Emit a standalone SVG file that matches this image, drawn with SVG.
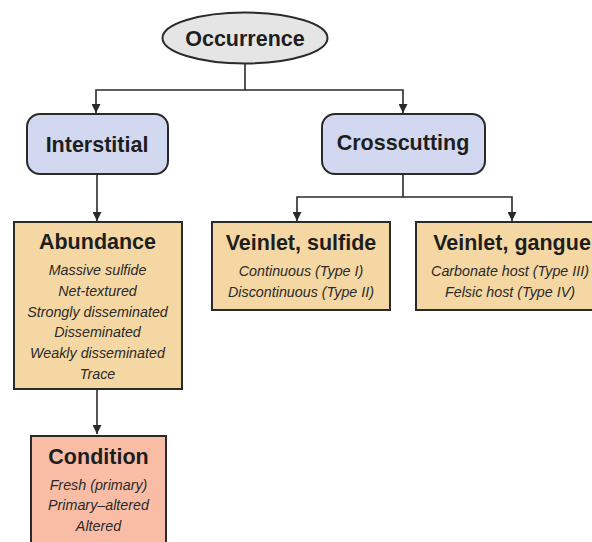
<svg xmlns="http://www.w3.org/2000/svg" width="592" height="542" viewBox="0 0 592 542">
<defs>
<marker id="arr" viewBox="0 0 10 10" refX="10" refY="5" markerWidth="9" markerHeight="9" markerUnits="userSpaceOnUse" orient="auto">
<path d="M0,0 L10,5 L0,10 Z" fill="#2a2a2a"/>
</marker>
</defs>
<style>
.box{stroke:#2a2a2a;stroke-width:2}
.t{font-family:"Liberation Sans",Arial,sans-serif;font-weight:bold;font-size:21.5px;fill:#1e1e1e;text-anchor:middle}
.i{font-family:"Liberation Sans",Arial,sans-serif;font-style:italic;font-size:14.3px;fill:#2a2a2a;text-anchor:middle}
.c{fill:none;stroke:#2a2a2a;stroke-width:1.6}
</style>
<rect width="592" height="542" fill="#ffffff"/>
<g id="connectors">
<path class="c" d="M245,63 V90 H96 V113" marker-end="url(#arr)"/>
<path class="c" d="M245,90 H403 V113" marker-end="url(#arr)"/>
<path class="c" d="M97,175 V221" marker-end="url(#arr)"/>
<path class="c" d="M403,174 V197 H297 V221" marker-end="url(#arr)"/>
<path class="c" d="M403,197 H512 V221" marker-end="url(#arr)"/>
<path class="c" d="M97,389 V434" marker-end="url(#arr)"/>
</g>
<g id="occurrence">
<ellipse class="box" cx="245" cy="38" rx="82.5" ry="25.5" fill="#e5e5e5"/>
<text class="t" x="245" y="45.5">Occurrence</text>
</g>
<g id="interstitial">
<rect class="box" x="27" y="114" width="141" height="60" rx="13" fill="#d2d8ef"/>
<text class="t" x="97" y="152">Interstitial</text>
</g>
<g id="crosscutting">
<rect class="box" x="322" y="114" width="163" height="60" rx="13" fill="#d2d8ef"/>
<text class="t" x="403" y="150">Crosscutting</text>
</g>
<g id="abundance">
<rect class="box" x="14" y="222" width="168" height="167" fill="#f5d7a3"/>
<text class="t" x="97.5" y="249">Abundance</text>
<text class="i" x="97.5" y="275">Massive sulfide</text>
<text class="i" x="97.5" y="296">Net-textured</text>
<text class="i" x="97.5" y="317">Strongly disseminated</text>
<text class="i" x="97.5" y="337">Disseminated</text>
<text class="i" x="97.5" y="358">Weakly disseminated</text>
<text class="i" x="97.5" y="379">Trace</text>
</g>
<g id="veinlet-sulfide">
<rect class="box" x="212" y="222" width="178" height="88" fill="#f5d7a3"/>
<text class="t" x="301" y="250">Veinlet, sulfide</text>
<text class="i" x="301" y="276">Continuous (Type I)</text>
<text class="i" x="301" y="297">Discontinuous (Type II)</text>
</g>
<g id="veinlet-gangue">
<rect class="box" x="416" y="222" width="192" height="88" fill="#f5d7a3"/>
<text class="t" x="512" y="250">Veinlet, gangue</text>
<text class="i" x="510" y="276">Carbonate host (Type III)</text>
<text class="i" x="510" y="297">Felsic host (Type IV)</text>
</g>
<g id="condition">
<rect class="box" x="31" y="436" width="135" height="120" fill="#f9bda6"/>
<text class="t" x="98.5" y="464">Condition</text>
<text class="i" x="98.5" y="490">Fresh (primary)</text>
<text class="i" x="98.5" y="510">Primary–altered</text>
<text class="i" x="98.5" y="531">Altered</text>
</g>
</svg>
